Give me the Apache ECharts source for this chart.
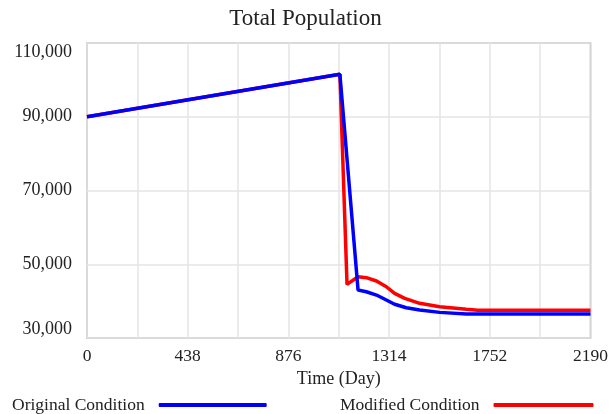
<!DOCTYPE html>
<html>
<head>
<meta charset="utf-8">
<script src="https://cdn.jsdelivr.net/npm/echarts@6/dist/echarts.min.js"></script>
<style>
  html, body { margin: 0; padding: 0; background: #fff; }
  #chart { width: 611px; height: 414px; }
</style>
</head>
<body>
<div id="chart"></div>
<script>
// Time (Day), population values
const originalDays = [0, 1100, 1179, 1215, 1259, 1302, 1338, 1389, 1447, 1534, 1650, 2190];
const originalValues = [90000, 101500, 43000, 42550, 41650, 40300, 39150, 38200, 37600, 36950, 36500, 36500];

const modifiedDays = [0, 1100, 1131, 1179, 1215, 1259, 1302, 1338, 1382, 1447, 1534, 1650, 1700, 2190];
const modifiedValues = [90000, 101500, 44550, 46600, 46350, 45450, 43900, 42100, 40750, 39400, 38500, 37800, 37550, 37500];

const xLabelStep = 438;
const seriesNames = ['Original Condition', 'Modified Condition'];

const zip = (xs, ys) => xs.map((x, i) => [x, ys[i]]);
const font = '"Liberation Serif", "Times New Roman", serif';

const chart = echarts.init(document.getElementById('chart'));

chart.setOption({
  animation: false,
  title: {
    text: 'Total Population',
    left: 'center',
    top: 2,
    textStyle: { fontFamily: font, fontSize: 23, fontWeight: 'normal', color: '#222' }
  },
  legend: [
    {
      data: [seriesNames[0]],
      left: 7,
      top: 391,
      align: 'right',
      icon: 'roundRect',
      itemWidth: 108,
      itemHeight: 4,
      textStyle: { fontFamily: font, fontSize: 17.5, color: '#222', padding: [0, 9, 0, 0] }
    },
    {
      data: [seriesNames[1]],
      left: 335,
      top: 391,
      align: 'right',
      icon: 'roundRect',
      itemWidth: 100,
      itemHeight: 4,
      textStyle: { fontFamily: font, fontSize: 17.5, color: '#222', padding: [0, 9, 0, 0] }
    }
  ],
  grid: {
    left: 87,
    right: 20,
    top: 43,
    bottom: 76,
    show: true,
    borderColor: '#a8a8a8',
    borderWidth: 1.5
  },
  xAxis: {
    type: 'value',
    min: 0,
    max: 2190,
    interval: 219,
    name: 'Time (Day)',
    nameLocation: 'middle',
    nameGap: 31,
    nameTextStyle: { fontFamily: font, fontSize: 18, color: '#222' },
    axisLine: { show: false },
    axisTick: { show: false },
    axisLabel: {
      margin: 9,
      fontFamily: font,
      fontSize: 17.5,
      color: '#222',
      formatter: v => (v % xLabelStep === 0 ? String(v) : '')
    },
    splitLine: { lineStyle: { color: '#e4e4e4', width: 1.5 } }
  },
  yAxis: {
    type: 'value',
    min: 30000,
    max: 110000,
    interval: 20000,
    axisLine: { show: false },
    axisTick: { show: false },
    axisLabel: {
      margin: 15,
      fontFamily: font,
      fontSize: 18,
      color: '#222',
      verticalAlignMinLabel: 'bottom',
      verticalAlignMaxLabel: 'top',
      formatter: v => v.toLocaleString('en-US')
    },
    splitLine: { lineStyle: { color: '#e4e4e4', width: 1.5 } }
  },
  series: [
    {
      name: seriesNames[1],
      type: 'line',
      data: zip(modifiedDays, modifiedValues),
      showSymbol: false,
      smooth: false,
      color: '#ff0000',
      lineStyle: { width: 3.5, color: '#ff0000' },
      z: 2
    },
    {
      name: seriesNames[0],
      type: 'line',
      data: zip(originalDays, originalValues),
      showSymbol: false,
      smooth: false,
      color: '#0000ff',
      lineStyle: { width: 3.5, color: '#0000ff' },
      z: 3
    }
  ]
});
</script>
</body>
</html>
